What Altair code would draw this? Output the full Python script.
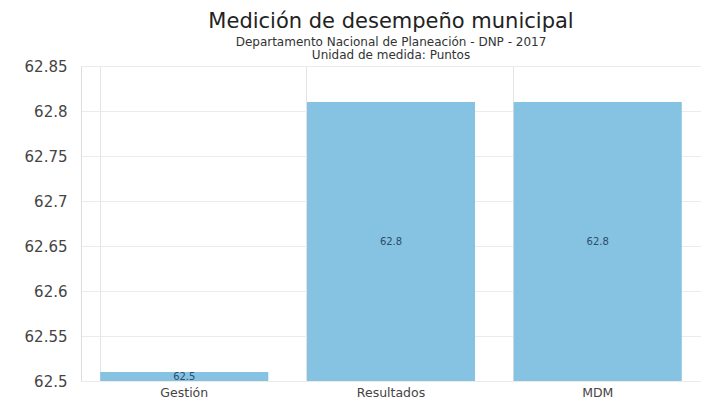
import altair as alt
import pandas as pd

categorias = ["Gestión", "Resultados", "MDM"]
valores = [62.51, 62.81, 62.81]
base = [62.5, 62.5, 62.5]
ticks_y = [62.5, 62.55, 62.6, 62.65, 62.7, 62.75, 62.8, 62.85]

df = pd.DataFrame({"cat": categorias, "valor": valores, "base": base})

FONT = "DejaVu Sans"

x = alt.X("cat:N", sort=categorias, title=None,
          scale=alt.Scale(paddingInner=0.187, paddingOuter=0.093),
          axis=alt.Axis(labelAngle=0, labelFontSize=12.5, labelColor="#444",
                        labelFont=FONT, domain=False, ticks=False,
                        grid=True, gridColor="#e4e4e4", bandPosition=0,
                        labelPadding=5))

y_scale = alt.Scale(domain=[62.5, 62.85], zero=False, nice=False)

bars = alt.Chart(df).mark_bar(color="#86C2E2").encode(
    x=x,
    y=alt.Y("valor:Q", scale=y_scale, title=None,
            axis=alt.Axis(values=ticks_y, format=".2~f",
                          labelFontSize=15, labelColor="#444", labelFont=FONT,
                          domain=True, domainColor="#dddddd", ticks=False,
                          gridColor="#ebebeb", labelPadding=14)),
    y2="base:Q",
)

labels = alt.Chart(df).transform_calculate(
    mid="(datum.valor + datum.base) / 2"
).mark_text(fontSize=10, color="#2b4e6e", font=FONT).encode(
    x=alt.X("cat:N", sort=categorias),
    y=alt.Y("mid:Q", scale=y_scale),
    text=alt.Text("valor:Q", format=".1f"),
)

chart = alt.layer(bars, labels).properties(
    width=620, height=315,
    padding={"left": 16, "right": 0, "top": 3, "bottom": 0},
    title=alt.TitleParams(
        "Medición de desempeño municipal",
        subtitle=["Departamento Nacional de Planeación - DNP - 2017",
                  "Unidad de medida: Puntos"],
        font=FONT, fontSize=21, fontWeight="normal", color="#222",
        subtitleFont=FONT, subtitleFontSize=12, subtitleColor="#333",
        subtitleLineHeight=13,
        anchor="middle", offset=-2, subtitlePadding=5,
    ),
).configure_view(stroke=None)

chart.save("out.html", embed_options={"renderer": "svg", "actions": False})
